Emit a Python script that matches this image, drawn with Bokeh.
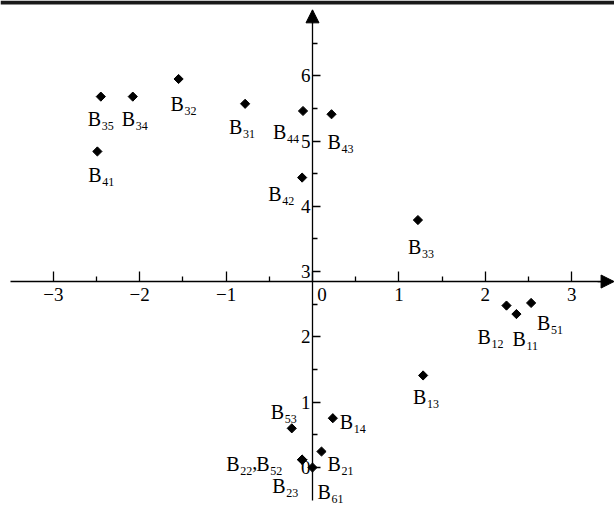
import numpy as np
from bokeh.plotting import figure
from bokeh.models import ColumnDataSource, FixedTicker, Arrow, NormalHead, Span
from bokeh.core.properties import value
from bokeh.embed import file_html
from bokeh.resources import INLINE

# ---- data ----
names = ["B11", "B12", "B13", "B14", "B21", "B22", "B23", "B31", "B32", "B33",
         "B34", "B35", "B41", "B42", "B43", "B44", "B51", "B52", "B53", "B61"]
subs = ["11", "12", "13", "14", "21", "22", "23", "31", "32", "33",
        "34", "35", "41", "42", "43", "44", "51", "52", "53", "61"]
x_vals = [2.36, 2.245, 1.28, 0.235, 0.104, -0.12, -0.12, -0.78, -1.55, 1.22,
          -2.08, -2.45, -2.49, -0.12, 0.22, -0.11, 2.53, -0.12, -0.24, 0.0]
y_vals = [2.35, 2.48, 1.41, 0.755, 0.245, 0.12, 0.12, 5.57, 5.95, 3.79,
          5.68, 5.68, 4.84, 4.44, 5.41, 5.46, 2.52, 0.12, 0.60, 0.0]

x_ticks = [-3, -2, -1, 0, 1, 2, 3]
x_tick_labels = ["\u22123", "\u22122", "\u22121", "\u00a0\u00a0\u00a0\u00a00", "1", "2", "3"]
x_minor = [-2.5, -1.5, -0.5, 0.5, 1.5, 2.5]
y_ticks = [0, 1, 2, 3, 4, 5, 6]
y_tick_labels = ["0", "1", "2", "3", "4", "5", "6"]
y_minor = [0.5, 1.5, 2.5, 3.5, 4.5, 5.5, 6.5]

# ---- layout (label offsets in screen px, relative to point) ----
label_dx = [-4, -29, -10, 7, 6, -76, -30, -16, -8, -10,
            -11, -13, -9, -34, -4, -30, 6, -46, -21, 5]
label_dy = [25, 31, 22, 4, 12, 4, 26, 23, 25, 27,
            22, 22, 24, 16, 28, 21, 20, 4, -16, 24]

X0, X1 = -3.611, 3.495
Y0, Y1 = -0.597, 7.152
X_AXIS_AT = 2.848
FONT = "Liberation Serif"

p = figure(width=614, height=506, x_range=(X0, X1), y_range=(Y0, Y1),
           output_backend="svg", toolbar_location=None, min_border=0,
           margin=(0, 0, 0, 0))
p.outline_line_color = None
p.grid.visible = False
p.background_fill_color = "white"
p.border_fill_color = "white"

# axes through the plot
p.xaxis.fixed_location = X_AXIS_AT
p.yaxis.fixed_location = 0
p.xaxis.bounds = (-3.495, 3.47)
p.yaxis.bounds = (-0.505, 7.0)

p.xaxis.ticker = FixedTicker(ticks=x_ticks, minor_ticks=x_minor)
p.xaxis.major_label_overrides = {t: l for t, l in zip(x_ticks, x_tick_labels)}
p.yaxis.ticker = FixedTicker(ticks=y_ticks, minor_ticks=y_minor)
p.yaxis.major_label_overrides = {t: l for t, l in zip(y_ticks, y_tick_labels)}

for ax, tin, mtin in ((p.xaxis, 10, 5), (p.yaxis, 8, 5)):
    ax.axis_line_color = "black"
    ax.axis_line_width = 1.3
    ax.major_tick_in = tin
    ax.major_tick_out = 0
    ax.minor_tick_in = mtin
    ax.minor_tick_out = 0
    ax.major_tick_line_color = "black"
    ax.minor_tick_line_color = "black"
    ax.major_tick_line_width = 1.3
    ax.minor_tick_line_width = 1.3
    ax.major_label_text_font = FONT
    ax.major_label_text_font_size = "19px"
    ax.major_label_text_color = "black"
p.xaxis.major_label_standoff = 2
p.yaxis.major_label_standoff = 2

# arrow heads
p.add_layout(Arrow(end=NormalHead(size=13, fill_color="black", line_color="black"),
                   x_start=3.3, y_start=X_AXIS_AT, x_end=3.49, y_end=X_AXIS_AT,
                   line_color="black", line_width=1.3))
p.add_layout(Arrow(end=NormalHead(size=13, fill_color="black", line_color="black"),
                   x_start=0, y_start=6.8, x_end=0, y_end=7.009,
                   line_color="black", line_width=1.3))

# top rule
p.add_layout(Span(location=7.121, dimension="width", line_width=4, line_color="#1a1a1a"))

# points
src = ColumnDataSource(dict(
    x=x_vals, y=y_vals, b=["B"] * len(names), sub=subs,
    dx=label_dx, dy=label_dy,
    sdx=[d + 14 for d in label_dx], sdy=[d + 7 for d in label_dy],
))
p.scatter("x", "y", source=src, marker="square", angle=np.pi / 4, size=6.5,
          fill_color="black", line_color="black")

p.text(x="x", y="y", text="b", source=src, x_offset="dx", y_offset="dy",
       text_font=value(FONT), text_font_size="20px", text_align="left",
       text_baseline="alphabetic", text_color="black")
p.text(x="x", y="y", text="sub", source=src, x_offset="sdx", y_offset="sdy",
       text_font=value(FONT), text_font_size="12px", text_align="left",
       text_baseline="alphabetic", text_color="black")

# comma between B22 and B52
i22 = names.index("B22")
comma_src = ColumnDataSource(dict(x=[x_vals[i22]], y=[y_vals[i22]], t=[","]))
p.text(x="x", y="y", text="t", source=comma_src, x_offset=-50, y_offset=2,
       text_font=value(FONT), text_font_size="20px", text_align="left",
       text_baseline="alphabetic", text_color="black")

open("out.html", "w").write(file_html(p, INLINE))
